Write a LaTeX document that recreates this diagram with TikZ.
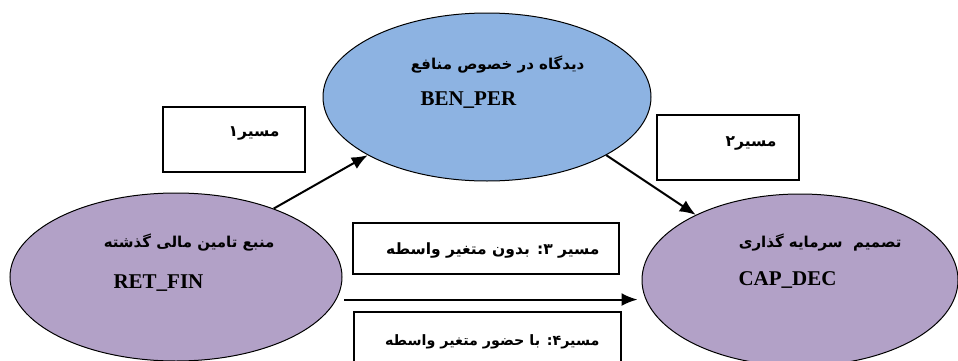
\documentclass[tikz,border=0pt]{standalone}
\usepackage{fontspec}
\setmainfont{Liberation Serif}
\newfontfamily\farsi[Script=Arabic]{DejaVu Sans}
\TeXXeTstate=1
\usetikzlibrary{calc,arrows.meta,shapes.geometric}

\tikzset{
    var/.style={ellipse,draw,line width=1pt,inner sep=0pt},
    pathbox/.style={draw,line width=1.2pt,inner sep=0pt},
    fa/.style={font=\farsi\bfseries\fontsize{15}{17}\selectfont},
    fabox/.style={font=\farsi\bfseries\fontsize{15.5}{17}\selectfont},
    en/.style={font=\bfseries\fontsize{21}{24}\selectfont},
    link/.style={->,line width=2pt},
}

\begin{document}
\begin{tikzpicture}[x=1pt,y=1pt,>={Latex[length=16pt,width=13pt]}]
                \useasboundingbox (0,0) rectangle (958,360);
                % variables
                \node[var,fill={rgb,255:red,178;green,161;blue,199},minimum width=332,minimum height=168] (RetFin) at (176,83) {};
                \node[var,fill={rgb,255:red,141;green,179;blue,226},minimum width=328,minimum height=168] (BenPer) at (487,263) {};
                \node[var,fill={rgb,255:red,178;green,161;blue,199},minimum width=316,minimum height=172] (CapDec) at (800,80) {};

                \node[fa,anchor=east] (RetFinFa) at (278,117) {\beginR منبع تامین مالی گذشته\endR};
                \node[en,anchor=west] (RetFinEn) at (110,77) {RET\_FIN};
                \node[fa,anchor=east] (BenPerFa) at (588,295) {\beginR دیدگاه در خصوص منافع\endR};
                \node[en,anchor=west] (BenPerEn) at (417,260) {BEN\_PER};
                \node[fa,anchor=east] (CapDecFa) at (905,117) {\beginR تصمیم\ \ سرمایه گذاری\endR};
                \node[en,anchor=west] (CapDecEn) at (735,80) {CAP\_DEC};

                % path labels
                \node[pathbox,minimum width=142,minimum height=65] (BoxA) at (234,220.5) {};
                \node[pathbox,minimum width=142,minimum height=65] (BoxB) at (728,212.5) {};
                \node[pathbox,minimum width=266,minimum height=51] (BoxC) at (486,111.5) {};
                \node[pathbox,minimum width=267,minimum height=58] (BoxD) at (487.5,19) {};
                \node[fabox,anchor=east] (TxtA) at (283,227) {\beginR مسیر۱\endR};
                \node[fabox,anchor=east] (TxtB) at (780,217) {\beginR مسیر۲\endR};
                \node[fabox,anchor=east] (TxtC) at (603,110) {\beginR مسیر ۳: بدون متغیر واسطه\endR};
                \node[fabox,anchor=east,font=\farsi\bfseries\fontsize{14.3}{17}\selectfont] (TxtD) at (603,18) {\beginR مسیر۴: با حضور متغیر واسطه\endR};

                % paths
                \draw[link] (RetFin.35) -- (BenPer.206);
                \draw[link] (BenPer.-26) -- (CapDec.148);
                \draw[link,shorten <=8pt,shorten >=4pt] (RetFin.-8) -- (RetFin.-8 -| CapDec.west);
            \end{tikzpicture}
\end{document}
